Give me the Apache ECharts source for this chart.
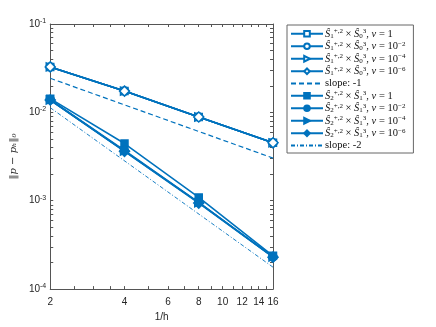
<!DOCTYPE html>
<html lang="en">
<head>
    <meta charset="UTF-8">
    <title>convergence</title>
    <script src="https://cdn.jsdelivr.net/npm/echarts@6/dist/echarts.min.js"></script>
</head>
<body style="margin:0">
<div id="main" style="width:436px;height:327px;"></div>
<script type="text/javascript">
    // data
    var hInv = [2, 4, 8, 16];
    var xTickLabels = [2, 4, 6, 8, 10, 12, 14, 16];
    var xMinorTicks = [2, 2.5, 3, 3.5, 4, 5, 6, 7, 8, 9, 10, 11, 12, 13, 14, 15, 16];
    var yTickLabels = [1e-4, 1e-3, 1e-2, 1e-1];

    var s1nu1 = [0.0327, 0.0174, 0.00887, 0.00452];
    var s1nu2 = [0.0327, 0.0174, 0.00887, 0.00452];
    var s1nu4 = [0.0327, 0.0174, 0.00887, 0.00452];
    var s1nu6 = [0.0327, 0.0174, 0.00887, 0.00452];
    var slope1 = [0.0243, 0.00304];
    var s2nu1 = [0.0143, 0.00444, 0.00109, 0.000238];
    var s2nu2 = [0.0139, 0.00370, 0.00096, 0.000232];
    var s2nu4 = [0.0138, 0.00365, 0.00095, 0.000231];
    var s2nu6 = [0.0138, 0.00362, 0.00094, 0.000230];
    var slope2 = [0.0113, 0.000177];

    // legend pieces: [space index, pressure index, nu exponent]
    var spaceIdx = [1, 1, 1, 1, null, 2, 2, 2, 2, null];
    var presIdx = [0, 0, 0, 0, null, 1, 1, 1, 1, null];
    var nuExp = [0, -2, -4, -6, null, 0, -2, -4, -6, null];
    var names = [
        'S1 nu=1', 'S1 nu=1e-2', 'S1 nu=1e-4', 'S1 nu=1e-6', 'slope: -1',
        'S2 nu=1', 'S2 nu=1e-2', 'S2 nu=1e-4', 'S2 nu=1e-6', 'slope: -2'
    ];

    var yMinorTicks = [];
    for (var e = -4; e < -1; e++) {
        for (var k = 1; k < 10; k++) yMinorTicks.push(k * Math.pow(10, e));
    }
    yMinorTicks.push(0.1);

    var blue = '#0072BD';
    var axisColor = '#555';

    function pairs(xs, ys) {
        var out = [];
        for (var i = 0; i < ys.length; i++) out.push([xs[i], ys[i]]);
        return out;
    }

    function markSeries(name, ys, symbol, hollow, rotate) {
        return {
            name: name,
            type: 'line',
            data: pairs(hInv, ys),
            symbol: symbol,
            symbolSize: symbol === 'diamond' ? 10 : (symbol === 'rect' ? 7 : 8),
            symbolRotate: rotate || 0,
            showAllSymbol: true,
            lineStyle: {color: blue, width: 1.6},
            itemStyle: {color: hollow ? '#fff' : blue, borderColor: blue, borderWidth: 1.5},
            z: 3
        };
    }

    function slopeSeries(name, ys, dash, width) {
        return {
            name: name,
            type: 'line',
            data: pairs([hInv[0], hInv[hInv.length - 1]], ys),
            symbol: 'none',
            lineStyle: {color: blue, width: width, type: dash},
            itemStyle: {color: blue},
            z: 2
        };
    }

    // legend entries; the slope lines get no marker
    var legendData = names.map(function (n) {
        if (n.indexOf('slope') === 0) return {name: n, itemStyle: {opacity: 0}};
        return {name: n};
    });

    function legendText(name) {
        var i = names.indexOf(name);
        if (spaceIdx[i] === null) return '{t|' + name + '}';
        var nu = nuExp[i] === 0 ? '{t|1}' : '{t|10}{sp|−' + (-nuExp[i]) + '}';
        return '{it|Ŝ}{sb|' + spaceIdx[i] + '}{sp|+,2}{t| × }{it|Ŝ}{sb|' + presIdx[i] + '}{sp|3}{t|, }{it|ν}{t| = }' + nu;
    }

    var myChart = echarts.init(document.getElementById('main'));

    var xBase = {
        type: 'log',
        logBase: 2,
        min: 2,
        max: 16,
        axisLine: {lineStyle: {color: axisColor, width: 1}},
        axisTick: {inside: true, length: 3, customValues: xMinorTicks, lineStyle: {color: axisColor}},
        splitLine: {show: false},
        minorTick: {show: false}
    };

    var yBase = {
        type: 'log',
        logBase: 10,
        min: 1e-4,
        max: 1e-1,
        axisLine: {lineStyle: {color: axisColor, width: 1}},
        axisTick: {inside: true, length: 3, customValues: yMinorTicks, lineStyle: {color: axisColor}},
        splitLine: {show: false},
        minorTick: {show: false}
    };

    var serif = 'Liberation Serif';
    var option = {
        animation: false,
        backgroundColor: '#fff',
        grid: {left: 40, right: 163, top: 24, bottom: 37},
        xAxis: [
            Object.assign({}, xBase, {
                position: 'bottom',
                name: '1/h',
                nameLocation: 'middle',
                nameGap: 22,
                nameTextStyle: {color: '#262626', fontSize: 10, fontFamily: 'Liberation Sans'},
                axisLabel: {
                    customValues: xTickLabels,
                    color: '#262626', fontSize: 10, fontFamily: 'Liberation Sans', margin: 8,
                    formatter: function (v) { return String(Math.round(v)); }
                }
            }),
            Object.assign({}, xBase, {position: 'top', axisLabel: {show: false}})
        ],
        yAxis: [
            Object.assign({}, yBase, {
                position: 'left',
                name: '‖p − pₕ‖₀',
                nameLocation: 'middle',
                nameGap: 30,
                nameTextStyle: {color: '#262626', fontSize: 10, fontFamily: 'DejaVu Serif', fontStyle: 'italic'},
                axisLabel: {
                    customValues: yTickLabels,
                    color: '#262626', fontSize: 10, fontFamily: 'Liberation Sans', margin: 4,
                    formatter: function (v) {
                        return '10{s|' + Math.round(Math.log10(v)) + '}';
                    },
                    rich: {s: {fontSize: 7, verticalAlign: 'top', padding: [0, 0, 6, 0], color: '#262626', fontFamily: 'Liberation Sans'}}
                }
            }),
            Object.assign({}, yBase, {position: 'right', axisLabel: {show: false}})
        ],
        legend: {
            orient: 'vertical',
            left: 287,
            top: 25,
            itemGap: 1,
            itemWidth: 32,
            itemHeight: 7,
            padding: [3, 8, 2, 3],
            borderColor: '#666',
            borderWidth: 1,
            backgroundColor: '#fff',
            formatter: legendText,
            textStyle: {
                fontFamily: serif, fontSize: 10.5, color: '#111', padding: [0, 0, 0, -3],
                rich: {
                    t: {fontFamily: serif, fontSize: 10.5, color: '#111', lineHeight: 11.5},
                    it: {fontFamily: serif, fontSize: 10.5, fontStyle: 'italic', color: '#111', lineHeight: 11.5},
                    sp: {fontFamily: serif, fontSize: 7, color: '#111', verticalAlign: 'top', lineHeight: 11.5, padding: [0, 0, 4, 0]},
                    sb: {fontFamily: serif, fontSize: 7, color: '#111', verticalAlign: 'bottom', lineHeight: 11.5, padding: [3, 0, 0, 0]}
                }
            },
            data: legendData
        },
        series: [
            markSeries(names[0], s1nu1, 'rect', true),
            markSeries(names[1], s1nu2, 'circle', true),
            markSeries(names[2], s1nu4, 'triangle', true, -90),
            markSeries(names[3], s1nu6, 'diamond', true),
            slopeSeries(names[4], slope1, [5, 3], 1.2),
            markSeries(names[5], s2nu1, 'rect', false),
            markSeries(names[6], s2nu2, 'circle', false),
            markSeries(names[7], s2nu4, 'triangle', false, -90),
            markSeries(names[8], s2nu6, 'diamond', false),
            slopeSeries(names[9], slope2, [4, 2, 1, 2], 0.9)
        ]
    };

    myChart.setOption(option);
</script>
</body>
</html>
